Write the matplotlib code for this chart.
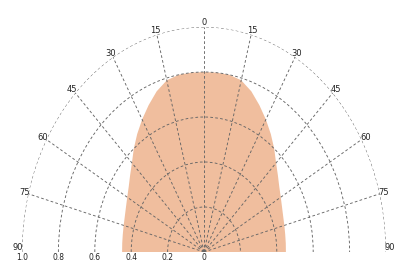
import numpy as np
import matplotlib.pyplot as plt

# angle (deg, 0 = straight up) and relative value of the filled pattern
angles = [-90, -85, -80, -75, -70, -65, -60, -55, -50, -45, -40, -35, -30, -25, -20, -15, -10, -5,
          0, 5, 10, 15, 20, 25, 30, 35, 40, 45, 50, 55, 60, 65, 70, 75, 80, 85, 90]
intensity = [0.45, 0.451, 0.453, 0.457, 0.463, 0.473, 0.487, 0.505, 0.53, 0.56, 0.60, 0.64, 0.68,
             0.72, 0.76, 0.79, 0.80, 0.80,
             0.80,
             0.80, 0.80, 0.79, 0.76, 0.72, 0.68, 0.64, 0.60, 0.56, 0.53, 0.505, 0.487, 0.473,
             0.463, 0.457, 0.453, 0.451, 0.45]

theta_ticks = [-90, -75, -60, -45, -30, -15, 0, 15, 30, 45, 60, 75, 90]
theta_labels = ["90", "75", "60", "45", "30", "15", "0", "15", "30", "45", "60", "75", "90"]
ring_values = [0.2, 0.4, 0.6, 0.8, 1.0]
ring_labels = ["1.0", "0.8", "0.6", "0.4", "0.2", "0"]
ring_label_pos = [1.0, 0.8, 0.6, 0.4, 0.2, 0.0]

W, H = 394, 262
fig = plt.figure(figsize=(W / 100, H / 100), dpi=100)

# half-ellipse: origin at (204, 252) px, radii 182 px across, 225 px up
cx, cy, rh, rv = 204, 252, 182, 225
ax_w = 2 * rh / W
ax_h = 2 * rv / H
ax = fig.add_axes([(cx - rh) / W, (H - cy) / H - 0.25 * ax_h, ax_w, ax_h],
                  projection='polar')
ax.set_aspect('auto')
ax.set_theta_zero_location('N')
ax.set_theta_direction(-1)
ax.set_thetamin(-90)
ax.set_thetamax(90)
ax.set_ylim(0, 1)

ax.fill(np.radians(angles), intensity, color='#F0BE9E', lw=0, zorder=1)

ax.set_xticks(np.radians(theta_ticks))
ax.set_xticklabels(theta_labels, fontsize=6, color='#222222')
ax.tick_params(axis='x', pad=-4, length=0)
xl = ax.get_xticklabels()
xl[0].set_va('bottom')
xl[-1].set_va('bottom')
ax.set_yticks(ring_values)
ax.set_yticklabels([])
ax.tick_params(axis='y', length=0, width=0)
ax.set_axisbelow(False)
ax.grid(True, color='#666666', lw=0.65, ls=(0, (3, 2.5)))
# draw() turns start/end back on for a wedge, so blank them instead
for s in ['polar', 'start', 'end', 'inner']:
    ax.spines[s].set_color('none')
    ax.spines[s].set_linewidth(0)

for r, lab in zip(ring_label_pos, ring_labels):
    ax.annotate(lab, xy=(np.radians(-90), r), xytext=(0, -1), textcoords='offset points',
                ha='center', va='top', fontsize=5.5, color='#222222', annotation_clip=False)

fig.savefig('out.png', dpi=100)
